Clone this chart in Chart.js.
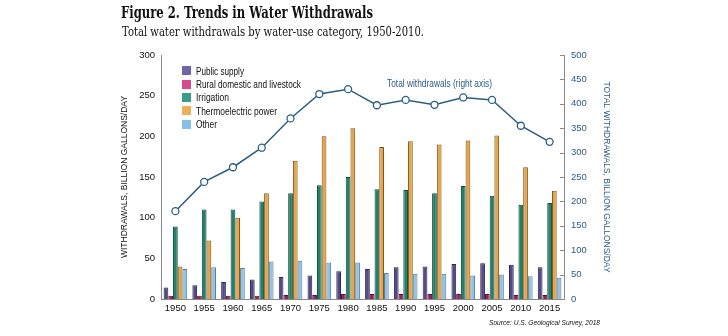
<!DOCTYPE html>
<html><head><meta charset="utf-8">
<script src="https://cdn.jsdelivr.net/npm/chart.js@4.4.1/dist/chart.umd.min.js"></script>
<style>
html,body{margin:0;padding:0;background:#fff;}
#wrap{position:relative;width:728px;height:336px;overflow:hidden;}
canvas{position:absolute;left:0;top:0;}
.t{position:absolute;white-space:nowrap;transform-origin:0 50%;line-height:1;}
#title{left:121px;top:5px;font-family:"DejaVu Serif";font-weight:bold;font-size:16px;color:#111;}
#sub{left:122px;top:26px;font-family:"DejaVu Serif";font-size:12px;color:#111;}
#src{left:489px;top:319px;font-family:"Liberation Sans","DejaVu Sans";font-style:italic;font-size:8px;color:#111;}
#tot{left:387px;top:79px;font-family:"Liberation Sans","DejaVu Sans";font-size:10px;color:#2b5d84;}
.lg{position:absolute;left:182px;font-family:"Liberation Sans","DejaVu Sans";font-size:10px;color:#111;white-space:nowrap;line-height:1;}
.lg i{display:inline-block;width:9px;height:9px;vertical-align:middle;margin-right:5px;position:relative;top:-1px;}
.lg span{display:inline-block;transform-origin:0 50%;vertical-align:middle;}
</style></head>
<body><div id="wrap">
<canvas id="c" width="728" height="336"></canvas>
<div class="t" id="title" data-w="252">Figure 2. Trends in Water Withdrawals</div>
<div class="t" id="sub" data-w="302">Total water withdrawals by water-use category, 1950-2010.</div>
<div class="t" id="tot" data-w="105">Total withdrawals (right axis)</div>
<div class="t" id="src" data-w="111">Source: U.S. Geological Survey, 2018</div>
<div id="legend"></div>
</div>
<script>
const years = ["1950","1955","1960","1965","1970","1975","1980","1985","1990","1995","2000","2005","2010","2015"];
const publicSupply = [14,17,21,24,27,29,34,37,39,40,43,44,42,39];
const ruralDomestic = [4,4,4,4,5,5,6,6,6,6,6,6,5,5];
const irrigation = [89,110,110,120,130,140,150,135,134,130,139,127,116,118];
const thermoelectric = [40,72,100,130,170,200,210,187,194,190,195,201,162,133];
const otherUse = [37,39,38,46,47,45,45,32,31,31,29,30,28,26];
const totalWithdrawals = [180,240,270,310,370,420,430,397,408,398,413,408,355,322];
const leftTicks = [0,50,100,150,200,250,300];
const rightTicks = [0,50,100,150,200,250,300,350,400,450,500];

const series = [
  {label:"Public supply", data:publicSupply, fill:"#554a84", border:"#2c2550", key:"#6f66a8"},
  {label:"Rural domestic and livestock", data:ruralDomestic, fill:"#a11a5c", border:"#5c0e34", key:"#d9498f"},
  {label:"Irrigation", data:irrigation, fill:"#25806a", border:"#0f4a3c", key:"#3b9c86"},
  {label:"Thermoelectric power", data:thermoelectric, fill:"#e4a54b", border:"#7d5218", key:"#eeb056"},
  {label:"Other", data:otherUse, fill:"#93c3e2", border:"#557f9c", key:"#86bfe8"}
];

const lg = document.getElementById('legend');
series.forEach((s,i)=>{
  const d=document.createElement('div'); d.className='lg';
  d.style.top=(72.3+i*13.4-6)+'px';
  d.innerHTML='<i style="background:'+s.key+'"></i><span>'+s.label+'</span>';
  lg.appendChild(d);
});

const lineColor = "#2b5d84";
const datasets = [{
  type:'line', label:'Total withdrawals', data:totalWithdrawals, yAxisID:'y1', order:0,
  borderColor:lineColor, borderWidth:1.5, pointRadius:3.5, pointBorderWidth:1.3,
  pointBackgroundColor:'#fff', pointBorderColor:lineColor, tension:0
}].concat(series.map(s=>({
  type:'bar', label:s.label, data:s.data, yAxisID:'y', order:1,
  backgroundColor:s.fill, borderColor:s.border, borderWidth:1,
  categoryPercentage:0.82, barPercentage:1.0
})));

const innerTicks = {
  id:'innerTicks',
  afterDraw(chart){
    const s=chart.scales.y1, ctx=chart.ctx;
    ctx.save(); ctx.strokeStyle='#8a8a8a'; ctx.lineWidth=1;
    rightTicks.forEach(v=>{
      const y=Math.round(s.getPixelForValue(v))+0.5;
      ctx.beginPath(); ctx.moveTo(s.left-4,y); ctx.lineTo(s.left,y); ctx.stroke();
    });
    ctx.restore();
  }
};

const tickFont = {family:"Liberation Sans", size:9.5};
new Chart(document.getElementById('c'), {
  data:{labels:years, datasets},
  plugins:[innerTicks],
  options:{
    responsive:false, animation:false,
    layout:{padding:{left:120,right:117,top:55,bottom:20}},
    plugins:{legend:{display:false}, tooltip:{enabled:false}},
    scales:{
      x:{
        grid:{display:false,drawTicks:false},
        border:{display:true,color:'#8a8a8a',width:1},
        ticks:{font:tickFont,color:'#111',padding:4,maxRotation:0},
        afterFit:(s)=>{s.height=17;}
      },
      y:{
        position:'left', min:0, max:300,
        afterBuildTicks:(s)=>{s.ticks=leftTicks.map(v=>({value:v}));},
        grid:{display:false,drawTicks:false},
        border:{display:true,color:'#8a8a8a',width:1},
        ticks:{font:tickFont,color:'#111',padding:6},
        title:{display:true,text:'WITHDRAWALS, BILLION GALLONS/DAY',font:{family:"Liberation Sans",size:8.5},color:'#111',padding:0},
        afterFit:(s)=>{s.width=41;}
      },
      y1:{
        position:'right', min:0, max:500,
        afterBuildTicks:(s)=>{s.ticks=rightTicks.map(v=>({value:v}));},
        grid:{display:false,drawTicks:false},
        border:{display:true,color:'#8a8a8a',width:1},
        ticks:{font:tickFont,color:lineColor,padding:7},
        title:{display:true,text:'TOTAL WITHDRAWALS, BILLION GALLONS/DAY',font:{family:"Liberation Sans",size:8.5},color:lineColor,padding:0},
        afterFit:(s)=>{s.width=47;}
      }
    }
  }
});

function fit(){
  document.querySelectorAll('.t[data-w]').forEach(el=>{
    el.style.transform='none';
    const w=el.getBoundingClientRect().width;
    el.style.transform='scaleX('+(+el.dataset.w/w)+')';
  });
  const targets=[48,105,33,81,21];
  document.querySelectorAll('.lg span').forEach((sp,i)=>{
    sp.style.transform='none';
    const w=sp.getBoundingClientRect().width;
    sp.style.transform='scaleX('+(targets[i]/w)+')';
  });
}
fit();
</script>
</body></html>
